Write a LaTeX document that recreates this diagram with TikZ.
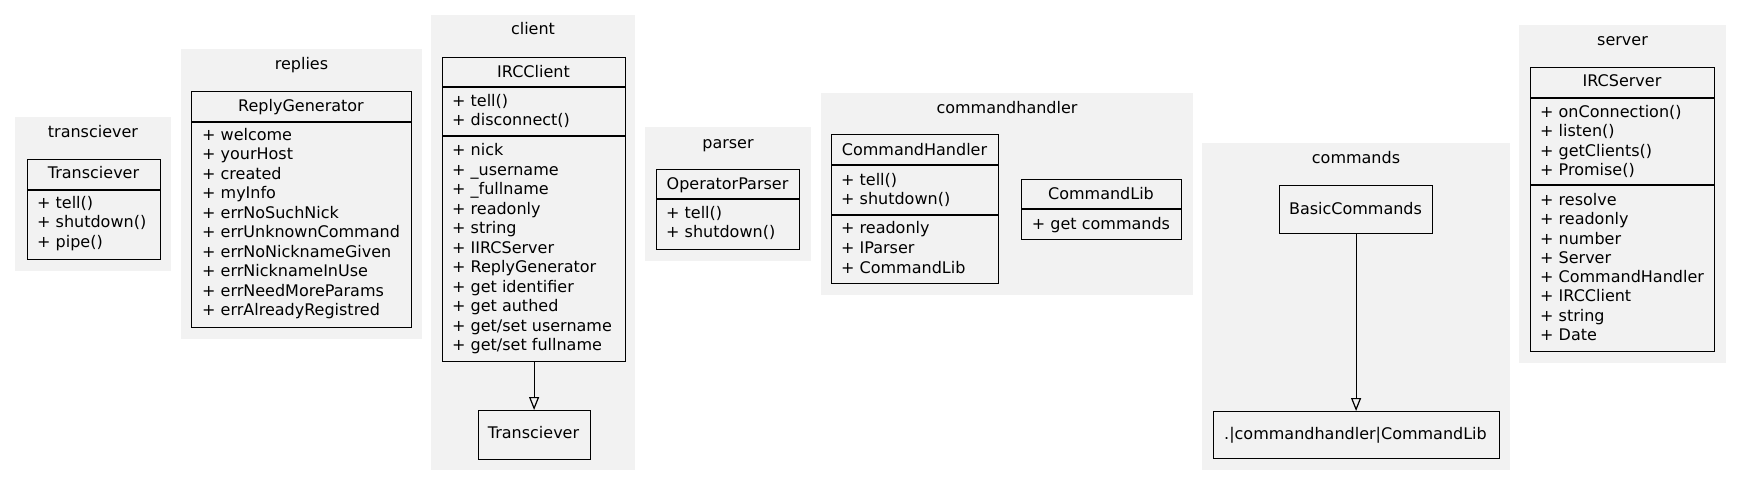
\documentclass[tikz,border=0pt]{standalone}
\usepackage{fontspec}
\setmainfont{DejaVu Sans}
\usetikzlibrary{arrows.meta}
\definecolor{cg}{HTML}{F2F2F2}
\begin{document}
\begin{tikzpicture}[x=1pt,y=-1pt,
  cluster/.style={fill=cg,draw=none},
  umlbox/.style={draw=black,fill=cg,line width=1.2pt,inner sep=0pt,anchor=north west},
  sepline/.style={draw=black,line width=1.1pt},
  txt/.style={font=\fontsize{16}{19.4}\selectfont,inner sep=0pt,text height=11.5pt,text depth=3.5pt,yshift=-2.5pt},
  ltxt/.style={txt,anchor=west},
  inh/.style={draw=black,line width=1.2pt,-{Triangle[open,length=13pt,width=10pt]}}]
\useasboundingbox (0,0) rectangle (1741,486);

% ---------- clusters ----------
\fill[cluster] (15,117) rectangle (171,271);
\fill[cluster] (181,49) rectangle (422,339);
\fill[cluster] (431,15) rectangle (635,470);
\fill[cluster] (645,127) rectangle (811,261);
\fill[cluster] (821,93) rectangle (1193,295);
\fill[cluster] (1202,143) rectangle (1510,470);
\fill[cluster] (1519,25) rectangle (1726,363);

\node[txt] (t-tr) at (93,131) {transciever};
\node[txt] (t-rp) at (301.5,63) {replies};
\node[txt] (t-cl) at (533,28) {client};
\node[txt] (t-pa) at (728,142) {parser};
\node[txt] (t-ch) at (1007,107) {commandhandler};
\node[txt] (t-cm) at (1356,157) {commands};
\node[txt] (t-sv) at (1622.5,39) {server};

% ---------- transciever ----------
\node[umlbox,minimum width=133pt,minimum height=100pt] (tr) at (27,159) {};
\draw[sepline] (27,190) -- (160,190);
\node[txt] (tr-h) at (93.5,172.5) {Transciever};
\foreach \t [count=\i] in {tell(), shutdown(), pipe()}
  \node[ltxt] (tr-\i) at (37,{202+(\i-1)*19.5}) {+ \t};

% ---------- replies ----------
\node[umlbox,minimum width=220pt,minimum height=236pt] (rg) at (191,91) {};
\draw[sepline] (191,122) -- (411,122);
\node[txt] (rg-h) at (301,105) {ReplyGenerator};
\foreach \t [count=\i] in {welcome, yourHost, created, myInfo, errNoSuchNick, errUnknownCommand, errNoNicknameGiven, errNicknameInUse, errNeedMoreParams, errAlreadyRegistred}
  \node[ltxt] (rg-\i) at (202,{134+(\i-1)*19.44}) {+ \t};

% ---------- client ----------
\node[umlbox,minimum width=183pt,minimum height=304pt] (ic) at (442,57) {};
\draw[sepline] (442,87) -- (625,87);
\draw[sepline] (442,136) -- (625,136);
\node[txt] (ic-h) at (533.5,71) {IRCClient};
\foreach \t [count=\i] in {tell(), disconnect()}
  \node[ltxt] (ic-m\i) at (452,{100+(\i-1)*19.4}) {+ \t};
\foreach \t [count=\i] in {nick, \_username, \_fullname, readonly, string, IIRCServer, ReplyGenerator, get identifier, get authed, get/set username, get/set fullname}
  \node[ltxt] (ic-a\i) at (452,{149+(\i-1)*19.55}) {+ \t};

\node[draw=black,fill=cg,line width=1.2pt,inner sep=0pt,anchor=north west,minimum width=112pt,minimum height=49pt] (ctr) at (477.5,410) {};
\node[txt] (ctr-h) at (533.5,432) {Transciever};
\draw[inh] (ic.south) -- (ctr.north);

% ---------- parser ----------
\node[umlbox,minimum width=143pt,minimum height=80pt] (op) at (656,169) {};
\draw[sepline] (656,199) -- (799,199);
\node[txt] (op-h) at (727.5,183) {OperatorParser};
\foreach \t [count=\i] in {tell(), shutdown()}
  \node[ltxt] (op-\i) at (666,{212+(\i-1)*19.5}) {+ \t};

% ---------- commandhandler ----------
\node[umlbox,minimum width=167pt,minimum height=149pt] (ch) at (831,134) {};
\draw[sepline] (831,165) -- (998,165);
\draw[sepline] (831,215) -- (998,215);
\node[txt] (ch-h) at (914.5,149) {CommandHandler};
\foreach \t [count=\i] in {tell(), shutdown()}
  \node[ltxt] (ch-m\i) at (841,{179+(\i-1)*19.4}) {+ \t};
\foreach \t [count=\i] in {readonly, IParser, CommandLib}
  \node[ltxt] (ch-a\i) at (841,{227+(\i-1)*19.8}) {+ \t};

\node[umlbox,minimum width=160pt,minimum height=60pt] (clib) at (1021,179) {};
\draw[sepline] (1021,209) -- (1181,209);
\node[txt] (clib-h) at (1101,193) {CommandLib};
\node[txt] (clib-1) at (1101,223) {+ get commands};

% ---------- commands ----------
\node[draw=black,fill=cg,line width=1.2pt,inner sep=0pt,anchor=north west,minimum width=153pt,minimum height=48pt] (bc) at (1279,185) {};
\node[txt] (bc-h) at (1355.5,208) {BasicCommands};
\node[draw=black,fill=cg,line width=1.2pt,inner sep=0pt,anchor=north west,minimum width=286pt,minimum height=47pt] (ext) at (1212.5,411) {};
\node[txt] (ext-h) at (1355.5,433) {.|commandhandler|CommandLib};
\draw[inh] (bc.south) -- (ext.north);

% ---------- server ----------
\node[umlbox,minimum width=184pt,minimum height=284pt] (is) at (1530,67) {};
\draw[sepline] (1530,98) -- (1714,98);
\draw[sepline] (1530,185) -- (1714,185);
\node[txt] (is-h) at (1622,80) {IRCServer};
\foreach \t [count=\i] in {onConnection(), listen(), getClients(), Promise()}
  \node[ltxt] (is-m\i) at (1540,{111+(\i-1)*19.3}) {+ \t};
\foreach \t [count=\i] in {resolve, readonly, number, Server, CommandHandler, IRCClient, string, Date}
  \node[ltxt] (is-a\i) at (1540,{199+(\i-1)*19.3}) {+ \t};
\end{tikzpicture}
\end{document}
